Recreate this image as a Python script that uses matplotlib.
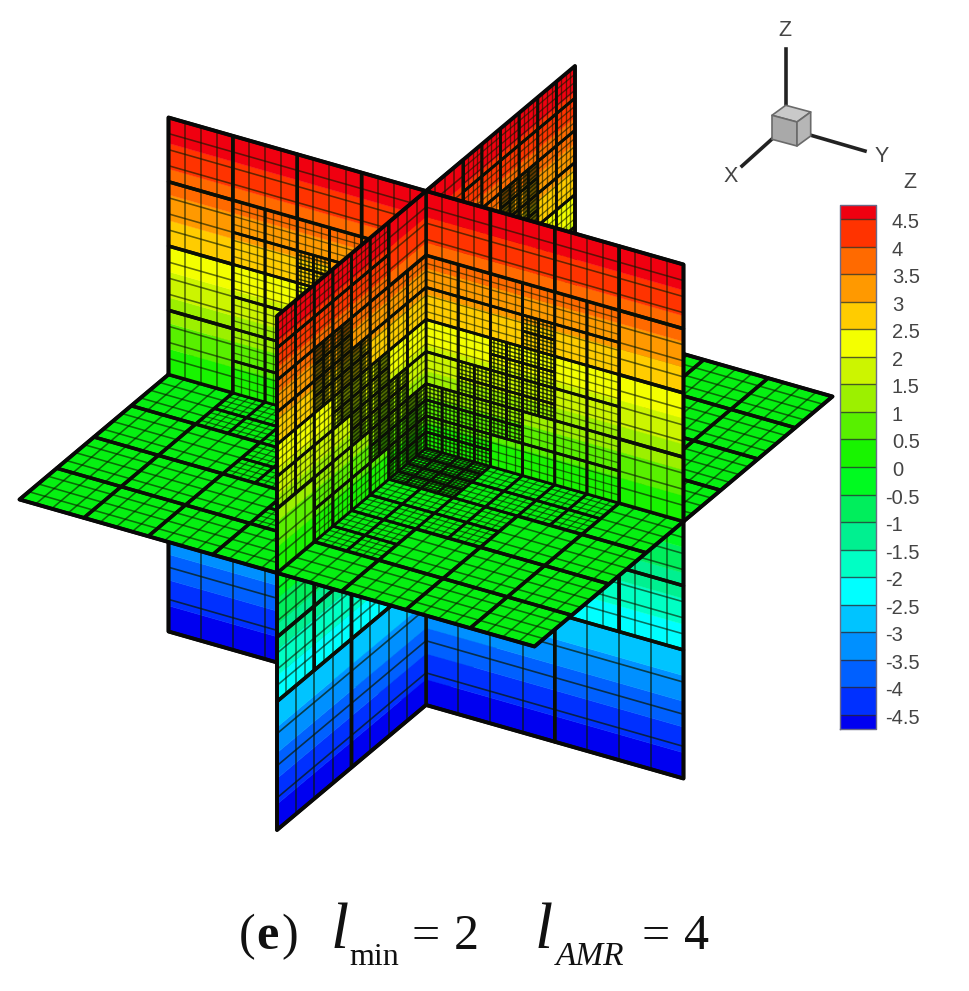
#!/usr/bin/env python3
"""Three cut planes through a refined mesh, flooded by Z, with axis triad and legend."""
import numpy as np
import matplotlib
matplotlib.use("Agg")
import matplotlib.pyplot as plt
from matplotlib.collections import PolyCollection, LineCollection

W, H = 969, 991

# contour bands, low to high
LEVELS = [-4.5, -4, -3.5, -3, -2.5, -2, -1.5, -1, -0.5, 0,
          0.5, 1, 1.5, 2, 2.5, 3, 3.5, 4, 4.5]
LEVEL_LABELS = ["-4.5", "-4", "-3.5", "-3", "-2.5", "-2", "-1.5", "-1", "-0.5", "0",
                "0.5", "1", "1.5", "2", "2.5", "3", "3.5", "4", "4.5"]
BAND_COLORS = ["#0000f0", "#0030ff", "#0060ff", "#0090ff", "#00c4ff",
               "#00ffff", "#00ffc4", "#00f090", "#00ee5c", "#00fa20",
               "#18f400", "#58f000", "#9cf000", "#ccf500", "#f4ff00",
               "#ffcc00", "#ff9900", "#ff6a00", "#ff3300", "#f00010"]
ZMIN, ZMAX = -5.0, 5.0
BAR_MIN, BAR_MAX = -4.75, 4.75

# leaf size per 2x2 patch of the finest grid: 8, 4, 2 or 1 fine cells across.
# rows run top to bottom, columns run from the centre line outwards
PLANE_A_UPPER = ["44444444", "44444444", "22222244", "22212244",
                 "22112244", "21112244", "11122244", "11222244"]
PLANE_B_UPPER = ["44222222", "44222222", "22221122", "22211122",
                 "22111222", "21112222", "11122244", "11222244"]
# rows run from z=0 downwards
PLANE_LOWER = ["44444444", "44444444", "44444444", "44444444",
               "88888888", "88888888", "88888888", "88888888"]
# rows run along x from the centre, columns along y from the centre
PLANE_Z0 = ["11222244", "11222244", "22224444", "22224444",
            "22444444", "22444444", "44444444", "44444444"]

CENTER = np.array([426.0, 448.0])
VEC_X = np.array([-29.8, 25.0])
VEC_Y = np.array([51.5, 14.7])
VEC_Z = np.array([0.0, -51.4])
UNIT = 5.0 / 16


def project(x, y, z):
    return CENTER + x * VEC_X + y * VEC_Y + z * VEC_Z


def leaves(table):
    """Unique (i, j, size) leaves, in fine-cell units from the centre."""
    out = set()
    for r, row in enumerate(table):
        for c, ch in enumerate(row):
            s = int(ch)
            i0, j0 = r * 2, c * 2
            for i in range(i0, i0 + 2):
                for j in range(j0, j0 + 2):
                    out.add((i // s * s, j // s * s, s))
    return sorted(out)


def draw_piece(ax, to_world, table, sv, su, zo):
    """to_world(u, v) gives the 3D point; u, v are signed plane coordinates."""
    def pt(a, b):
        return project(*to_world(su * a * UNIT, sv * b * UNIT))

    # flood
    polys, cols = [], []
    edges = [ZMIN] + LEVELS + [ZMAX]
    if to_world(0.0, 1.0)[2] == 0.0:
        polys.append([pt(0, 0), pt(16, 0), pt(16, 16), pt(0, 16)])
        cols.append("#06f012")
    else:
        for k in range(len(BAND_COLORS)):
            lo = max(edges[k], min(0, sv * 5))
            hi = min(edges[k + 1], max(0, sv * 5))
            if hi <= lo:
                continue
            a, b = abs(lo) / UNIT, abs(hi) / UNIT
            polys.append([pt(0, a), pt(16, a), pt(16, b), pt(0, b)])
            cols.append(BAND_COLORS[k])
    ax.add_collection(PolyCollection(polys, facecolors=cols, edgecolors=cols,
                                     linewidths=0.3, zorder=zo))

    thin = {8: [], 4: [], 2: [], 1: []}
    thick = {8: [], 4: [], 2: [], 1: []}
    for i, j, s in leaves(table):
        for t in range(1, 4):
            f = s * t / 4
            thin[s].append([pt(j + f, i), pt(j + f, i + s)])
            thin[s].append([pt(j, i + f), pt(j + s, i + f)])
        thick[s].append([pt(j, i), pt(j + s, i), pt(j + s, i + s), pt(j, i + s), pt(j, i)])
    thin_w = {8: 1.2, 4: 1.15, 2: 0.95, 1: 1.1}
    thin_a = {8: 0.7, 4: 0.62, 2: 0.6, 1: 0.8}
    thick_w = {8: 2.5, 4: 2.5, 2: 2.0, 1: 1.9}
    for s in thin:
        if thin[s]:
            ax.add_collection(LineCollection(thin[s], colors="#0a1a00", alpha=thin_a[s],
                                             linewidths=thin_w[s], zorder=zo + 0.1))
    for s in thick:
        if thick[s]:
            ax.add_collection(LineCollection(thick[s], colors="#0b0f06", linewidths=thick_w[s],
                                             capstyle="round", joinstyle="round",
                                             zorder=zo + 0.2 + s / 100))
    outer = [pt(0, 16), pt(16, 16), pt(16, 0)]
    ax.plot(*np.array(outer).T, color="#080808", lw=2.8, solid_capstyle="round",
            solid_joinstyle="round", zorder=zo + 0.3)


def plane_a(sign_y, sign_z):
    table = PLANE_LOWER if sign_z < 0 else PLANE_A_UPPER[::-1]
    return (lambda u, v: (0.0, u, v)), table, sign_z, sign_y


def plane_b(sign_x, sign_z):
    table = PLANE_LOWER if sign_z < 0 else PLANE_B_UPPER[::-1]
    return (lambda u, v: (u, 0.0, v)), table, sign_z, sign_x


def plane_h(sign_x, sign_y):
    # v runs along x, u along y
    return (lambda u, v: (v, u, 0.0)), PLANE_Z0, sign_x, sign_y


fig = plt.figure(figsize=(W / 100, H / 100), dpi=100, facecolor="white")
ax = fig.add_axes([0, 0, 1, 1])
ax.set_xlim(0, W)
ax.set_ylim(H, 0)
ax.axis("off")

order = [plane_a(-1, -1), plane_b(-1, -1), plane_a(1, -1), plane_b(1, -1),
         plane_h(-1, -1), plane_h(-1, 1), plane_h(1, -1), plane_h(1, 1),
         plane_a(-1, 1), plane_b(-1, 1), plane_a(1, 1), plane_b(1, 1)]
for n, (world, table, sv, su) in enumerate(order):
    draw_piece(ax, world, table, sv, su, 2 + n)

# axis triad
TX, TY, TZ = np.array([-13.7, 10.0]), np.array([25.0, 6.7]), np.array([0.0, -24.0])
GREY = "#222222"
ax.plot([785.7, 785.7], [105, 49], color=GREY, lw=2.6, zorder=30)
ax.plot([810, 865], [135, 151], color=GREY, lw=2.6, zorder=30)
ax.plot([772, 742], [139, 166], color=GREY, lw=2.6, zorder=30)
top_front = np.array([797.0, 122.0])
p_left = top_front - TY
p_right = top_front - TX
p_back = p_left - TX
down = -TZ
faces = [[top_front, p_right, p_back, p_left],
         [top_front, p_left, p_left + down, top_front + down],
         [top_front, p_right, p_right + down, top_front + down]]
ax.add_collection(PolyCollection(faces, facecolors=["#c9c9c9", "#a9a9a9", "#b6b6b6"],
                                 edgecolors="#6a6a6a", linewidths=1.2, zorder=31))
LABEL_FONT = dict(family="Liberation Sans", color="#444444", ha="center", va="center")
ax.text(785, 31, "Z", fontsize=15.5, zorder=32, **LABEL_FONT)
ax.text(731, 177, "X", fontsize=15.5, zorder=32, **LABEL_FONT)
ax.text(882, 156, "Y", fontsize=15.5, zorder=32, **LABEL_FONT)
ax.text(910, 183, "Z", fontsize=15.5, zorder=32, **LABEL_FONT)

# legend, drawn on the same level scale
BAR_L, BAR_R = 840, 876
y_hi, step = 219.0, 27.55
def level_y(v):
    return y_hi + (4.5 - v) * 2 * step

edges = [BAR_MIN] + LEVELS + [BAR_MAX]
bar = [[(BAR_L, level_y(edges[k])), (BAR_R, level_y(edges[k])),
        (BAR_R, level_y(edges[k + 1])), (BAR_L, level_y(edges[k + 1]))]
       for k in range(len(BAND_COLORS))]
ax.add_collection(PolyCollection(bar, facecolors=BAND_COLORS, edgecolors="none", zorder=20))
ax.add_collection(LineCollection([[(BAR_L, level_y(v)), (BAR_R, level_y(v))] for v in LEVELS],
                                 colors="#2a2a2a", alpha=0.75, linewidths=1.0, zorder=21))
ax.plot([BAR_L, BAR_R, BAR_R, BAR_L, BAR_L],
        [level_y(BAR_MIN), level_y(BAR_MIN), level_y(BAR_MAX), level_y(BAR_MAX), level_y(BAR_MIN)],
        color="#6a6a88", lw=1.0, zorder=22)
for v, lab in zip(LEVELS, LEVEL_LABELS):
    ax.text(885 if lab.startswith("-") else 892, level_y(v) + 3.5, lab,
            family="Liberation Sans", fontsize=14.5, color="#444444",
            ha="left", va="center", zorder=22)

# caption
SERIF = dict(family="Liberation Serif", color="#111111", va="baseline", ha="left")
ax.text(239, 949, "(", fontsize=36, **SERIF)
ax.text(256, 949, "e", fontsize=36, fontweight="bold", **SERIF)
ax.text(281, 949, ")", fontsize=36, **SERIF)
ax.text(331, 948, "l", fontsize=47, fontstyle="italic", **SERIF)
ax.text(349, 965, "min", fontsize=23, **SERIF)
ax.text(412, 949, "=", fontsize=36, **SERIF)
ax.text(454, 949, "2", fontsize=36, **SERIF)
ax.text(535, 948, "l", fontsize=47, fontstyle="italic", **SERIF)
ax.text(556, 965, "AMR", fontsize=24, fontstyle="italic", **SERIF)
ax.text(642, 949, "=", fontsize=36, **SERIF)
ax.text(684, 949, "4", fontsize=36, **SERIF)

fig.savefig("out.png", dpi=100, facecolor="white")
plt.close(fig)
